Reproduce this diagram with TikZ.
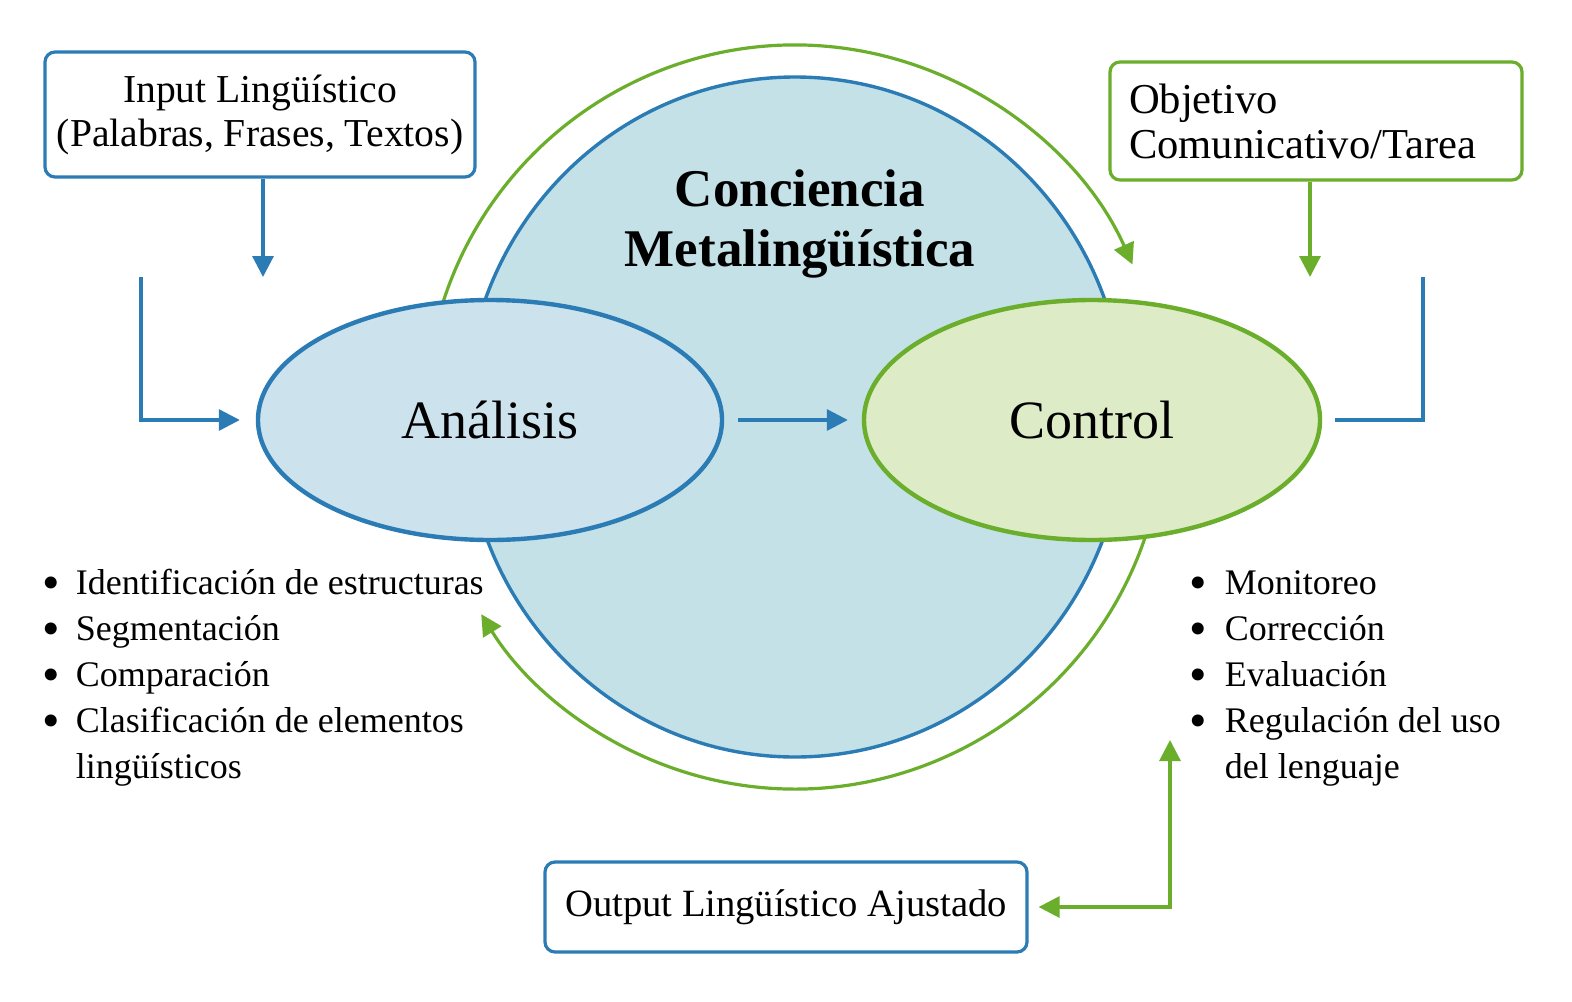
\documentclass[tikz,border=0pt]{standalone}
\usepackage{fontspec}
\setmainfont{Liberation Serif}
\usetikzlibrary{arrows.meta,positioning,shapes.geometric}
\definecolor{lineblue}{HTML}{2B7BB5}
\definecolor{linegreen}{HTML}{6AAE2C}
\definecolor{circfill}{HTML}{C3E1E6}
\definecolor{anafill}{HTML}{CCE3EE}
\definecolor{ctrlfill}{HTML}{DDEBC6}
\newcommand{\punto}{\raisebox{-2.5pt}{\fontsize{25}{23}\selectfont\textbullet}}

\begin{document}
\begin{tikzpicture}[x=0.5pt,y=0.5pt,on grid,
  box/.style={draw=lineblue,line width=1.6pt,rounded corners=5pt,fill=white,
    align=center,font=\fontsize{19.8}{22}\selectfont,inner sep=0pt},
  anaell/.style={ellipse,draw=lineblue,fill=anafill,line width=2.2pt,
    minimum width=232pt,minimum height=120pt,inner sep=0pt,font=\fontsize{27}{30}\selectfont},
  ctrlell/.style={ellipse,draw=linegreen,fill=ctrlfill,line width=2.2pt,
    minimum width=228pt,minimum height=120pt,inner sep=0pt,font=\fontsize{27}{30}\selectfont},
  tip/.style={-{Triangle[length=10.5pt,width=10.5pt]}},
  bluearrow/.style={draw=lineblue,line width=1.6pt,tip,lineblue},
  greenarrow/.style={draw=linegreen,line width=1.6pt,tip,linegreen},
  bluelink/.style={draw=lineblue,line width=1.6pt},
  bullets/.style={anchor=north west,inner sep=0pt,font=\fontsize{18}{23}\selectfont}]
\useasboundingbox (0,0) rectangle (1572,-1001);

% central circle and feedback arcs
\node[ellipse,draw=lineblue,fill=circfill,line width=1.7pt,minimum width=330pt,
  minimum height=340pt] (conciencia) at (795,-417) {};
\draw[greenarrow] (795,-417) ++(165:370 and 372) arc[start angle=165,end angle=24.2,x radius=370,y radius=372];
\draw[greenarrow] (795,-417) ++(-17:370 and 372) arc[start angle=-17,end angle=-148,x radius=370,y radius=372];
\node[font=\bfseries\fontsize{26.5}{30}\selectfont,align=center] (titulo) at (800,-224)
  {Conciencia\\Metalingüística};

% ellipses
\node[anaell] (analisis) at (490,-420) {Análisis};
\node[ctrlell] (control) [right=301pt of analisis] {Control};

% boxes
\node[box,minimum width=215pt,minimum height=62.5pt] (input) at (260,-114.5)
  {Input Lingüístico\\(Palabras, Frases, Textos)};
\node[box,draw=linegreen,minimum width=206pt,minimum height=59pt,text width=187pt,
  align=left,font=\fontsize{21.3}{22.5}\selectfont] (objetivo) at (1316,-121)
  {Objetivo\\Comunicativo/Tarea};
\node[box,font=\fontsize{19.3}{22}\selectfont,minimum width=241pt,minimum height=45pt]
  (output) at (786,-907) {Output Lingüístico Ajustado};

% lists
\node[bullets] (listaana) at (42,-562) {\begin{tabular}{@{}l@{\hspace{8pt}}l@{}}
  \punto & Identificación de estructuras\\
  \punto & Segmentación\\
  \punto & Comparación\\
  \punto & Clasificación de elementos\\
   & lingüísticos
\end{tabular}};
\node[bullets] (listactrl) at (1189,-562) {\begin{tabular}{@{}l@{\hspace{9pt}}l@{}}
  \punto & Monitoreo\\
  \punto & Corrección\\
  \punto & Evaluación\\
  \punto & Regulación del uso\\
   & del lenguaje
\end{tabular}};

% connectors
\coordinate (inarr) at (263,-277);
\coordinate (inL) at (141,-277);
\coordinate (objarr) at (1310,-277);
\coordinate (ctrlL) at (1423,-277);
\coordinate (outup) at (1170,-740);
\draw[bluearrow] (input.south -| inarr) -- (inarr);
\draw[bluearrow] (inL) |- ([xshift=-8pt]analisis.west);
\draw[bluearrow,shorten <=7pt,shorten >=7pt] (analisis.east) -- (control.west);
\draw[greenarrow] (objetivo.south -| objarr) -- (objarr);
\draw[bluelink] (ctrlL) |- ([xshift=6.5pt]control.east);
\draw[greenarrow,{Triangle[length=10.5pt,width=10.5pt]}-{Triangle[length=10.5pt,width=10.5pt]}]
  ([xshift=5pt]output.east) -| (outup);
\end{tikzpicture}
\end{document}
